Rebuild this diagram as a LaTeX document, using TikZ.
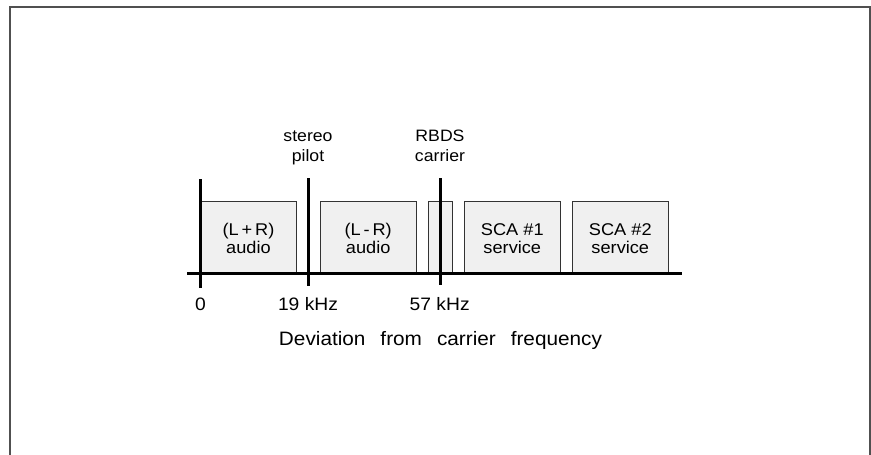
\documentclass[tikz,border=0pt]{standalone}
\usepackage{fontspec}
\setmainfont[FakeStretch=1.07]{Liberation Sans}
\definecolor{bandfill}{HTML}{F0F0F0}
\definecolor{bandline}{HTML}{333333}
\definecolor{framecol}{HTML}{505050}
\begin{document}
\begin{tikzpicture}[x=1pt,y=-1pt,
  band/.style={draw=bandline, line width=1pt, fill=bandfill, minimum height=72pt, inner sep=0pt},
  bandtxt/.style={inner sep=0pt, align=center, anchor=base, font=\fontsize{17}{18}\selectfont},
  marker/.style={line width=3pt},
  toplbl/.style={inner sep=0pt, align=center, anchor=base, font=\fontsize{16.5}{20}\selectfont},
  ticklbl/.style={inner sep=0pt, anchor=base, font=\fontsize{18}{20}\selectfont},
  axislbl/.style={inner sep=0pt, anchor=base, font=\fontsize{19.4}{22}\selectfont}]
\useasboundingbox (0,0) rectangle (871,455);
% frame (open at bottom)
\coordinate (fbl) at (9.5,460);
\coordinate (ftl) at (9.5,6.5);
\coordinate (ftr) at (869.5,6.5);
\coordinate (fbr) at (869.5,460);
\draw[framecol, line width=2pt] (fbl) -- (ftl) -- (ftr) -- (fbr);
% bands
\node[band, minimum width=96pt] (b1) at (248.5,237.5) {};
\node[band, minimum width=96pt] (b2) at (368.2,237.5) {};
\node[band, minimum width=24.4pt] (rb) at (440.5,237.5) {};
\node[band, minimum width=96pt] (b3) at (512.3,237.5) {};
\node[band, minimum width=96pt] (b4) at (620.3,237.5) {};
\node[bandtxt] (b1t) at (248.5,253) {(L\,+\,R)\\audio};
\node[bandtxt] (b2t) at (368.2,253) {(L\,-\,R)\\audio};
\node[bandtxt] (b3t) at (512.3,253) {SCA \#1\\service};
\node[bandtxt] (b4t) at (620.3,253) {SCA \#2\\service};
% axis
\coordinate (ax0) at (187,273.5);
\coordinate (ax1) at (682,273.5);
\draw[marker] (ax0) -- (ax1);
% markers
\coordinate (m0t) at (200.5,179);
\coordinate (m0b) at (200.5,288);
\coordinate (m1t) at (308,178);
\coordinate (m1b) at (308,286);
\coordinate (m2t) at (440,178);
\coordinate (m2b) at (440,285);
\draw[marker] (m0t) -- (m0b);
\draw[marker] (m1t) -- (m1b);
\draw[marker] (m2t) -- (m2b);
% top labels
\node[toplbl] (pilot) at (308,161.5) {stereo\\pilot};
\node[toplbl] (rbds) at (440,161.5) {RBDS\\carrier};
% tick labels
\node[ticklbl] (t0) at (200.5,310) {0};
\node[ticklbl] (t19) at (308,310) {19 kHz};
\node[ticklbl] (t57) at (439.7,310) {57 kHz};
% axis label
\node[axislbl] (dev) at (440.5,345) {Deviation\hspace{15pt}from\hspace{15pt}carrier\hspace{15pt}frequency};
\end{tikzpicture}
\end{document}
